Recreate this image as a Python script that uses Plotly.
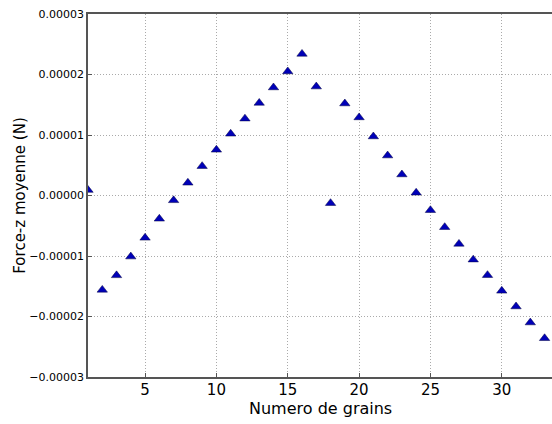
import plotly.graph_objects as go

grains = list(range(1, 34))
force_z = [
    0.09e-5, -1.56e-5, -1.32e-5, -1.01e-5, -0.70e-5, -0.385e-5, -0.08e-5,
    0.21e-5, 0.485e-5, 0.755e-5, 1.02e-5, 1.27e-5, 1.53e-5, 1.785e-5,
    2.05e-5, 2.34e-5, 1.80e-5, -0.127e-5, 1.52e-5, 1.29e-5, 0.975e-5,
    0.66e-5, 0.347e-5, 0.045e-5, -0.243e-5, -0.524e-5, -0.80e-5, -1.06e-5,
    -1.317e-5, -1.576e-5, -1.835e-5, -2.10e-5, -2.36e-5,
]

x_ticks = [5, 10, 15, 20, 25, 30]
y_ticks = [-3e-5, -2e-5, -1e-5, 0, 1e-5, 2e-5, 3e-5]
y_tick_labels = ["\u22120.00003", "\u22120.00002", "\u22120.00001", "0.00000",
                 "0.00001", "0.00002", "0.00003"]

fig = go.Figure()
fig.add_trace(
    go.Scatter(
        x=grains,
        y=force_z,
        mode="markers",
        marker=dict(symbol="triangle-up", size=9, color="#0000b8",
                    line=dict(color="#000040", width=0.5)),
        showlegend=False,
    )
)

fig.update_layout(
    width=552,
    height=424,
    margin=dict(l=88, r=0, t=14, b=47, autoexpand=False),
    paper_bgcolor="white",
    plot_bgcolor="white",
    font=dict(family="DejaVu Sans", color="black"),
)
fig.add_annotation(
    text="Numero de grains", xref="paper", yref="paper", x=0.5, y=0,
    xanchor="center", yanchor="top", yshift=-20, showarrow=False,
    font=dict(size=16),
)
fig.update_xaxes(
    range=[1, 33.52],
    tickvals=x_ticks,
    tickfont=dict(size=15),
    ticklabelstandoff=-2,
    automargin=False,
    showgrid=True, gridcolor="#aaaaaa", griddash="1px,2px", gridwidth=1,
    showline=True, linecolor="#555555", linewidth=1.5, mirror=True,
    ticks="inside", ticklen=4, tickcolor="#555555",
    zeroline=False,
)
fig.update_yaxes(
    range=[-3e-5, 3e-5],
    tickvals=y_ticks,
    ticktext=y_tick_labels,
    tickfont=dict(size=11),
    ticklabeloverflow="allow",
    title=dict(text="Force-z moyenne (N)", font=dict(size=15), standoff=0),
    automargin=False,
    showgrid=True, gridcolor="#aaaaaa", griddash="1px,2px", gridwidth=1,
    showline=True, linecolor="#555555", linewidth=1.5,
    ticks="inside", ticklen=4, tickcolor="#555555",
    zeroline=False,
)

# drop the page's default body margin so the figure fills the window
fig.write_html(
    "out.html",
    config={"displayModeBar": False},
    post_script="document.body.style.margin='0';document.body.style.overflow='hidden';",
)
